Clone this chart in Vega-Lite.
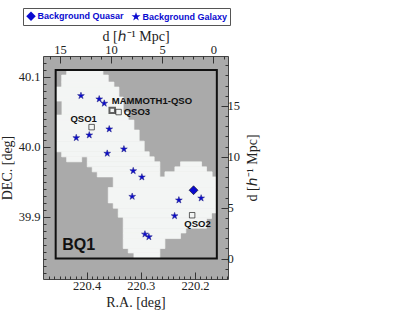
{"$schema":"https://vega.github.io/schema/vega-lite/v6.json","width":185,"height":223,"autosize":{"type":"none"},"padding":{"left":43,"top":56,"right":187,"bottom":33},"background":"white","view":{"fill":"#aaaaaa","stroke":"#444444","strokeWidth":1},
"config":{"font":"Liberation Serif","axis":{"grid":false,"domain":false,"labelFont":"Liberation Serif","titleFont":"Liberation Serif","labelColor":"#222222","titleColor":"#222222","tickColor":"#333333","labelFontSize":12.5,"titleFontSize":14,"titleFontWeight":"normal","tickWidth":1}},
"datasets":{"region":[
{"ra1":220.4369,"ra2":220.3699,"d1":40.1096,"d2":40.1024},
{"ra1":220.4461,"ra2":220.3601,"d1":40.1024,"d2":40.0924},
{"ra1":220.4461,"ra2":220.3496,"d1":40.0924,"d2":40.0853},
{"ra1":220.4572,"ra2":220.3404,"d1":40.0853,"d2":40.0710},
{"ra1":220.4572,"ra2":220.3325,"d1":40.0710,"d2":40.0653},
{"ra1":220.4456,"ra2":220.3325,"d1":40.0653,"d2":40.0496},
{"ra1":220.4456,"ra2":220.3232,"d1":40.0496,"d2":40.0453},
{"ra1":220.4572,"ra2":220.3232,"d1":40.0453,"d2":40.0381},
{"ra1":220.4572,"ra2":220.3127,"d1":40.0381,"d2":40.0239},
{"ra1":220.4572,"ra2":220.3030,"d1":40.0239,"d2":40.0081},
{"ra1":220.4572,"ra2":220.2937,"d1":40.0081,"d2":39.9929},
{"ra1":220.4461,"ra2":220.2845,"d1":39.9929,"d2":39.9857},
{"ra1":220.4369,"ra2":220.4092,"d1":39.9857,"d2":39.9786},
{"ra1":220.3989,"ra2":220.2753,"d1":39.9857,"d2":39.9786},
{"ra1":220.3989,"ra2":220.2648,"d1":39.9786,"d2":39.9714},
{"ra1":220.2266,"ra2":220.1878,"d1":39.9786,"d2":39.9714},
{"ra1":220.3897,"ra2":220.2648,"d1":39.9714,"d2":39.9643},
{"ra1":220.2371,"ra2":220.1786,"d1":39.9714,"d2":39.9643},
{"ra1":220.3804,"ra2":220.2648,"d1":39.9643,"d2":39.9571},
{"ra1":220.2555,"ra2":220.1683,"d1":39.9643,"d2":39.9571},
{"ra1":220.3509,"ra2":220.1614,"d1":39.9571,"d2":39.9420},
{"ra1":220.3601,"ra2":220.1614,"d1":39.9420,"d2":39.9200},
{"ra1":220.3509,"ra2":220.1614,"d1":39.9200,"d2":39.9124},
{"ra1":220.3417,"ra2":220.1614,"d1":39.9124,"d2":39.9057},
{"ra1":220.3417,"ra2":220.1694,"d1":39.9057,"d2":39.8996},
{"ra1":220.3325,"ra2":220.1694,"d1":39.8996,"d2":39.8977},
{"ra1":220.3325,"ra2":220.1786,"d1":39.8977,"d2":39.8839},
{"ra1":220.3325,"ra2":220.2168,"d1":39.8839,"d2":39.8771},
{"ra1":220.3325,"ra2":220.2266,"d1":39.8771,"d2":39.8691},
{"ra1":220.3325,"ra2":220.2555,"d1":39.8691,"d2":39.8549},
{"ra1":220.3232,"ra2":220.2648,"d1":39.8549,"d2":39.8486},
{"ra1":220.3127,"ra2":220.2648,"d1":39.8486,"d2":39.8406}],
"sources":[
{"kind":"Background Galaxy","ra":220.4105,"dec":40.0729},
{"kind":"Background Galaxy","ra":220.3768,"dec":40.0681},
{"kind":"Background Galaxy","ra":220.3675,"dec":40.0620},
{"kind":"Background Galaxy","ra":220.3583,"dec":40.0253},
{"kind":"Background Galaxy","ra":220.3952,"dec":40.0167},
{"kind":"Background Galaxy","ra":220.4192,"dec":40.0129},
{"kind":"Background Galaxy","ra":220.3312,"dec":39.9967},
{"kind":"Background Galaxy","ra":220.3620,"dec":39.9906},
{"kind":"Background Galaxy","ra":220.3140,"dec":39.9657},
{"kind":"Background Galaxy","ra":220.2980,"dec":39.9567},
{"kind":"Background Galaxy","ra":220.3159,"dec":39.9291},
{"kind":"Background Galaxy","ra":220.2297,"dec":39.9239},
{"kind":"Background Galaxy","ra":220.1886,"dec":39.9267},
{"kind":"Background Galaxy","ra":220.2376,"dec":39.9014},
{"kind":"Background Galaxy","ra":220.2924,"dec":39.8753},
{"kind":"Background Galaxy","ra":220.2851,"dec":39.8714},
{"kind":"Background Quasar","ra":220.2026,"dec":39.9381}],
"qsos":[
{"name":"MAMMOTH1-QSO","ra":220.3528,"dec":40.0520,"w":2,"lra":220.2795,"ldec":40.0653},
{"name":"QSO3","ra":220.3410,"dec":40.0496,"w":1,"lra":220.3072,"ldec":40.0491},
{"name":"QSO1","ra":220.3908,"dec":40.0281,"w":1,"lra":220.4055,"ldec":40.0396},
{"name":"QSO2","ra":220.2052,"dec":39.9024,"w":1,"lra":220.1952,"ldec":39.8896}],
"box":[{"ra1":220.4572,"ra2":220.1596,"d1":39.8406,"d2":40.1096}],
"bq":[{"t":"BQ1","ra":220.4452,"dec":39.8595}],
"dist":[{"d":0,"e":0},{"d":15,"e":15}]},
"resolve":{"scale":{"x":"independent","y":"independent"},"axis":{"x":"independent","y":"independent"}},
"layer":[
{"data":{"name":"region"},"mark":{"type":"rect","fill":"#f3f5f4","stroke":"#f3f5f4","strokeWidth":0.7},
"encoding":{"x":{"field":"ra1","type":"quantitative","scale":{"domain":[220.4806,220.139],"nice":false,"zero":false},"axis":{"orient":"bottom","title":"R.A. [deg]","values":[220.4,220.3,220.2],"format":".1f","tickSize":-7,"labelPadding":7,"titlePadding":4,"zindex":1}},"x2":{"field":"ra2"},
"y":{"field":"d1","type":"quantitative","scale":{"domain":[39.8114,40.1296],"nice":false,"zero":false},"axis":{"orient":"left","title":"DEC. [deg]","values":[39.9,40.0,40.1],"format":".1f","tickSize":-7,"labelPadding":10,"titlePadding":4,"zindex":1}},"y2":{"field":"d2"}}},
{"data":{"name":"box"},"mark":{"type":"rect","fill":null,"stroke":"#111111","strokeWidth":2},
"encoding":{"x":{"field":"ra1","type":"quantitative","scale":{"domain":[220.4806,220.139],"nice":false,"zero":false},"axis":null},"x2":{"field":"ra2"},
"y":{"field":"d1","type":"quantitative","scale":{"domain":[39.8114,40.1296],"nice":false,"zero":false},"axis":null},"y2":{"field":"d2"}}},
{"data":{"name":"sources"},"mark":{"type":"point","filled":true,"opacity":1},
"encoding":{"x":{"field":"ra","type":"quantitative","scale":{"domain":[220.4806,220.139],"nice":false,"zero":false},"axis":null},
"y":{"field":"dec","type":"quantitative","scale":{"domain":[39.8114,40.1296],"nice":false,"zero":false},"axis":null},
"shape":{"field":"kind","type":"nominal","scale":{"domain":["Background Quasar","Background Galaxy"],"range":["diamond","M0,-1L0.2245,-0.309L0.951,-0.309L0.363,0.118L0.588,0.809L0,0.382L-0.588,0.809L-0.363,0.118L-0.951,-0.309L-0.2245,-0.309Z"]},
"legend":{"orient":"none","legendX":-20,"legendY":-48,"direction":"horizontal","title":null,"labelFont":"Liberation Sans","labelFontWeight":"bold","labelFontSize":9,"labelColor":"#0a0ad0","symbolFillColor":"#0a0ad0","symbolStrokeColor":"#111166","symbolStrokeWidth":0.6,"symbolSize":90,"symbolOpacity":1,"labelOffset":1,"columnPadding":5,"padding":2.5,"strokeColor":"#555555","fillColor":"white","labelLimit":110,"zindex":2}},
"size":{"field":"kind","type":"nominal","scale":{"domain":["Background Galaxy","Background Quasar"],"range":[50,80]},"legend":null},
"fill":{"value":"#0a0ad0"},
"stroke":{"field":"kind","type":"nominal","scale":{"domain":["Background Galaxy","Background Quasar"],"range":["#2a2a90","#111111"]},"legend":null},
"strokeWidth":{"value":0.6}}},
{"data":{"name":"qsos"},"mark":{"type":"point","shape":"square","fill":null,"stroke":"#222222"},
"encoding":{"x":{"field":"ra","type":"quantitative","scale":{"domain":[220.4806,220.139],"nice":false,"zero":false},"axis":null},
"y":{"field":"dec","type":"quantitative","scale":{"domain":[39.8114,40.1296],"nice":false,"zero":false},"axis":null},
"strokeWidth":{"field":"w","type":"quantitative","scale":null,"legend":null}}},
{"data":{"name":"qsos"},"mark":{"type":"text","font":"Liberation Sans","fontWeight":"bold","fontSize":9.5,"fill":"#111111","baseline":"middle","align":"center"},
"encoding":{"x":{"field":"lra","type":"quantitative","scale":{"domain":[220.4806,220.139],"nice":false,"zero":false},"axis":null},
"y":{"field":"ldec","type":"quantitative","scale":{"domain":[39.8114,40.1296],"nice":false,"zero":false},"axis":null},
"text":{"field":"name"}}},
{"data":{"name":"bq"},"mark":{"type":"text","font":"Liberation Sans","fontWeight":"bold","fontSize":16,"fill":"#111111","align":"left","baseline":"middle"},
"encoding":{"x":{"field":"ra","type":"quantitative","scale":{"domain":[220.4806,220.139],"nice":false,"zero":false},"axis":null},
"y":{"field":"dec","type":"quantitative","scale":{"domain":[39.8114,40.1296],"nice":false,"zero":false},"axis":null},"text":{"field":"t"}}},
{"data":{"name":"dist"},"mark":{"type":"point","opacity":0},
"encoding":{"x":{"field":"ra","type":"quantitative","scale":{"domain":[220.4806,220.139],"nice":false,"zero":false},"axis":{"orient":"bottom","title":null,"labels":false,"tickSize":-3,"values":[220.47,220.46,220.45,220.44,220.43,220.42,220.41,220.39,220.38,220.37,220.36,220.35,220.34,220.33,220.32,220.31,220.29,220.28,220.27,220.26,220.25,220.24,220.23,220.22,220.21,220.19,220.18,220.17,220.16,220.15,220.14],"zindex":1}},
"y":{"field":"dec","type":"quantitative","scale":{"domain":[39.8114,40.1296],"nice":false,"zero":false},"axis":{"orient":"left","title":null,"labels":false,"tickSize":-3,"values":[39.82,39.83,39.84,39.85,39.86,39.87,39.88,39.89,39.91,39.92,39.93,39.94,39.95,39.96,39.97,39.98,39.99,40.01,40.02,40.03,40.04,40.05,40.06,40.07,40.08,40.09,40.11,40.12],"zindex":1}}}},
{"data":{"name":"dist"},"mark":{"type":"point","opacity":0},
"encoding":{"x":{"field":"d","type":"quantitative","scale":{"domain":[16.66,-1.44],"nice":false,"zero":false},"axis":{"orient":"top","title":"d [ℎ⁻¹ Mpc]","values":[0,5,10,15],"format":"d","tickSize":-7,"labelPadding":7,"titlePadding":0,"zindex":1}},
"y":{"field":"e","type":"quantitative","scale":{"domain":[-2.0,19.9],"nice":false,"zero":false},"axis":{"orient":"right","title":"d [ℎ⁻¹ Mpc]","titleAngle":-90,"values":[0,5,10,15],"format":"d","tickSize":-7,"labelPadding":6,"titlePadding":20,"zindex":1}}}},
{"data":{"name":"dist"},"mark":{"type":"point","opacity":0},
"encoding":{"x":{"field":"d","type":"quantitative","scale":{"domain":[16.66,-1.44],"nice":false,"zero":false},"axis":{"orient":"top","title":null,"labels":false,"tickSize":-3,"values":[16,14,13,12,11,9,8,7,6,4,3,2,1,-1],"zindex":1}},
"y":{"field":"e","type":"quantitative","scale":{"domain":[-2.0,19.9],"nice":false,"zero":false},"axis":{"orient":"right","title":null,"labels":false,"tickSize":-3,"values":[-1,1,2,3,4,6,7,8,9,11,12,13,14,16,17,18,19],"zindex":1}}}}
]}
